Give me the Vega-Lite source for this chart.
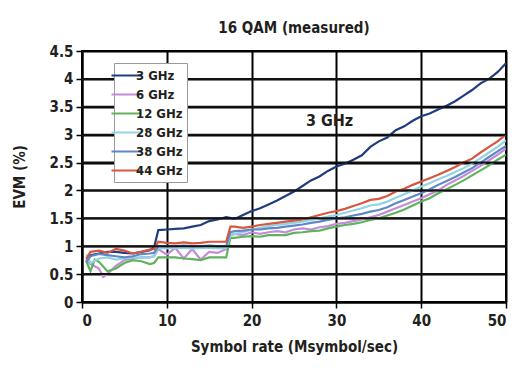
{
  "$schema": "https://vega.github.io/schema/vega-lite/v6.json",
  "width": 424,
  "height": 251,
  "autosize": "none",
  "padding": {"left": 82, "top": 51, "right": 26, "bottom": 71},
  "background": "white",
  "title": {"text": "16 QAM (measured)", "fontSize": 15, "fontWeight": "bold", "color": "#231f20", "offset": 8, "anchor": "middle", "font": "DejaVu Sans Condensed"},
  "config": {
    "font": "DejaVu Sans Condensed",
    "view": {"stroke": "black", "strokeWidth": 2},
    "axis": {
      "gridColor": "black", "gridWidth": 2, "gridOpacity": 1,
      "domainColor": "black", "domainWidth": 2,
      "tickColor": "black", "tickWidth": 1.5, "tickSize": 6,
      "labelFontSize": 15, "labelFontWeight": "bold", "labelColor": "#231f20", "labelOverlap": false,
      "titleFontSize": 15, "titleFontWeight": "bold", "titleColor": "#231f20"
    },
    "legend": {
      "labelFontSize": 13, "labelFontWeight": "bold", "labelColor": "#231f20"
    }
  },
  "layer": [
    {
      "data": {"values": [
        {"s":"3 GHz","x":0.5,"v":0.72},{"s":"3 GHz","x":1,"v":0.84},{"s":"3 GHz","x":2,"v":0.87},{"s":"3 GHz","x":3,"v":0.9},{"s":"3 GHz","x":4,"v":0.9},{"s":"3 GHz","x":5,"v":0.88},{"s":"3 GHz","x":6,"v":0.87},{"s":"3 GHz","x":7,"v":0.9},{"s":"3 GHz","x":8,"v":0.93},{"s":"3 GHz","x":8.5,"v":0.98},{"s":"3 GHz","x":9,"v":1.29},{"s":"3 GHz","x":10,"v":1.3},{"s":"3 GHz","x":11,"v":1.31},{"s":"3 GHz","x":12,"v":1.32},{"s":"3 GHz","x":13,"v":1.35},{"s":"3 GHz","x":14,"v":1.38},{"s":"3 GHz","x":15,"v":1.45},{"s":"3 GHz","x":16,"v":1.48},{"s":"3 GHz","x":17,"v":1.52},{"s":"3 GHz","x":18,"v":1.49},{"s":"3 GHz","x":19,"v":1.56},{"s":"3 GHz","x":20,"v":1.63},{"s":"3 GHz","x":21,"v":1.68},{"s":"3 GHz","x":22,"v":1.75},{"s":"3 GHz","x":23,"v":1.82},{"s":"3 GHz","x":24,"v":1.9},{"s":"3 GHz","x":25,"v":1.98},{"s":"3 GHz","x":26,"v":2.08},{"s":"3 GHz","x":27,"v":2.18},{"s":"3 GHz","x":28,"v":2.25},{"s":"3 GHz","x":29,"v":2.35},{"s":"3 GHz","x":30,"v":2.43},{"s":"3 GHz","x":31,"v":2.48},{"s":"3 GHz","x":32,"v":2.55},{"s":"3 GHz","x":33,"v":2.63},{"s":"3 GHz","x":34,"v":2.78},{"s":"3 GHz","x":35,"v":2.88},{"s":"3 GHz","x":36,"v":2.95},{"s":"3 GHz","x":37,"v":3.08},{"s":"3 GHz","x":38,"v":3.15},{"s":"3 GHz","x":39,"v":3.25},{"s":"3 GHz","x":40,"v":3.33},{"s":"3 GHz","x":41,"v":3.38},{"s":"3 GHz","x":42,"v":3.45},{"s":"3 GHz","x":43,"v":3.52},{"s":"3 GHz","x":44,"v":3.6},{"s":"3 GHz","x":45,"v":3.7},{"s":"3 GHz","x":46,"v":3.8},{"s":"3 GHz","x":47,"v":3.92},{"s":"3 GHz","x":48,"v":4.0},{"s":"3 GHz","x":49,"v":4.12},{"s":"3 GHz","x":50,"v":4.28},

        {"s":"6 GHz","x":0.5,"v":0.75},{"s":"6 GHz","x":1,"v":0.68},{"s":"6 GHz","x":2,"v":0.6},{"s":"6 GHz","x":2.5,"v":0.45},{"s":"6 GHz","x":3,"v":0.5},{"s":"6 GHz","x":4,"v":0.65},{"s":"6 GHz","x":5,"v":0.75},{"s":"6 GHz","x":6,"v":0.78},{"s":"6 GHz","x":7,"v":0.8},{"s":"6 GHz","x":8,"v":0.8},{"s":"6 GHz","x":8.5,"v":0.82},{"s":"6 GHz","x":9,"v":0.95},{"s":"6 GHz","x":10,"v":0.85},{"s":"6 GHz","x":11,"v":0.97},{"s":"6 GHz","x":12,"v":0.78},{"s":"6 GHz","x":13,"v":0.95},{"s":"6 GHz","x":14,"v":0.76},{"s":"6 GHz","x":15,"v":0.9},{"s":"6 GHz","x":16,"v":0.88},{"s":"6 GHz","x":17,"v":0.95},{"s":"6 GHz","x":17.5,"v":1.2},{"s":"6 GHz","x":18,"v":1.22},{"s":"6 GHz","x":19,"v":1.2},{"s":"6 GHz","x":20,"v":1.25},{"s":"6 GHz","x":21,"v":1.22},{"s":"6 GHz","x":22,"v":1.25},{"s":"6 GHz","x":23,"v":1.27},{"s":"6 GHz","x":24,"v":1.25},{"s":"6 GHz","x":25,"v":1.3},{"s":"6 GHz","x":26,"v":1.32},{"s":"6 GHz","x":27,"v":1.3},{"s":"6 GHz","x":28,"v":1.34},{"s":"6 GHz","x":29,"v":1.36},{"s":"6 GHz","x":30,"v":1.4},{"s":"6 GHz","x":31,"v":1.42},{"s":"6 GHz","x":32,"v":1.45},{"s":"6 GHz","x":33,"v":1.48},{"s":"6 GHz","x":34,"v":1.52},{"s":"6 GHz","x":35,"v":1.56},{"s":"6 GHz","x":36,"v":1.62},{"s":"6 GHz","x":37,"v":1.68},{"s":"6 GHz","x":38,"v":1.74},{"s":"6 GHz","x":39,"v":1.8},{"s":"6 GHz","x":40,"v":1.86},{"s":"6 GHz","x":41,"v":1.93},{"s":"6 GHz","x":42,"v":2.0},{"s":"6 GHz","x":43,"v":2.1},{"s":"6 GHz","x":44,"v":2.18},{"s":"6 GHz","x":45,"v":2.26},{"s":"6 GHz","x":46,"v":2.35},{"s":"6 GHz","x":47,"v":2.44},{"s":"6 GHz","x":48,"v":2.54},{"s":"6 GHz","x":49,"v":2.64},{"s":"6 GHz","x":50,"v":2.75},

        {"s":"12 GHz","x":0.5,"v":0.73},{"s":"12 GHz","x":1,"v":0.55},{"s":"12 GHz","x":1.5,"v":0.76},{"s":"12 GHz","x":2,"v":0.72},{"s":"12 GHz","x":3,"v":0.55},{"s":"12 GHz","x":4,"v":0.6},{"s":"12 GHz","x":5,"v":0.7},{"s":"12 GHz","x":6,"v":0.75},{"s":"12 GHz","x":7,"v":0.73},{"s":"12 GHz","x":8,"v":0.68},{"s":"12 GHz","x":8.5,"v":0.7},{"s":"12 GHz","x":9,"v":0.8},{"s":"12 GHz","x":10,"v":0.8},{"s":"12 GHz","x":11,"v":0.8},{"s":"12 GHz","x":12,"v":0.78},{"s":"12 GHz","x":13,"v":0.77},{"s":"12 GHz","x":14,"v":0.75},{"s":"12 GHz","x":15,"v":0.8},{"s":"12 GHz","x":16,"v":0.8},{"s":"12 GHz","x":17,"v":0.8},{"s":"12 GHz","x":17.5,"v":1.15},{"s":"12 GHz","x":18,"v":1.15},{"s":"12 GHz","x":19,"v":1.17},{"s":"12 GHz","x":20,"v":1.18},{"s":"12 GHz","x":21,"v":1.17},{"s":"12 GHz","x":22,"v":1.2},{"s":"12 GHz","x":23,"v":1.2},{"s":"12 GHz","x":24,"v":1.2},{"s":"12 GHz","x":25,"v":1.24},{"s":"12 GHz","x":26,"v":1.25},{"s":"12 GHz","x":27,"v":1.27},{"s":"12 GHz","x":28,"v":1.28},{"s":"12 GHz","x":29,"v":1.32},{"s":"12 GHz","x":30,"v":1.35},{"s":"12 GHz","x":31,"v":1.38},{"s":"12 GHz","x":32,"v":1.4},{"s":"12 GHz","x":33,"v":1.43},{"s":"12 GHz","x":34,"v":1.47},{"s":"12 GHz","x":35,"v":1.5},{"s":"12 GHz","x":36,"v":1.55},{"s":"12 GHz","x":37,"v":1.6},{"s":"12 GHz","x":38,"v":1.66},{"s":"12 GHz","x":39,"v":1.73},{"s":"12 GHz","x":40,"v":1.8},{"s":"12 GHz","x":41,"v":1.86},{"s":"12 GHz","x":42,"v":1.95},{"s":"12 GHz","x":43,"v":2.02},{"s":"12 GHz","x":44,"v":2.1},{"s":"12 GHz","x":45,"v":2.18},{"s":"12 GHz","x":46,"v":2.27},{"s":"12 GHz","x":47,"v":2.36},{"s":"12 GHz","x":48,"v":2.45},{"s":"12 GHz","x":49,"v":2.55},{"s":"12 GHz","x":50,"v":2.64},

        {"s":"28 GHz","x":0.5,"v":0.85},{"s":"28 GHz","x":1,"v":0.7},{"s":"28 GHz","x":2,"v":0.78},{"s":"28 GHz","x":3,"v":0.8},{"s":"28 GHz","x":4,"v":0.76},{"s":"28 GHz","x":5,"v":0.78},{"s":"28 GHz","x":6,"v":0.8},{"s":"28 GHz","x":7,"v":0.79},{"s":"28 GHz","x":8,"v":0.8},{"s":"28 GHz","x":8.5,"v":0.82},{"s":"28 GHz","x":9,"v":0.97},{"s":"28 GHz","x":10,"v":0.96},{"s":"28 GHz","x":11,"v":0.97},{"s":"28 GHz","x":12,"v":0.97},{"s":"28 GHz","x":13,"v":0.96},{"s":"28 GHz","x":14,"v":0.97},{"s":"28 GHz","x":15,"v":0.97},{"s":"28 GHz","x":16,"v":0.96},{"s":"28 GHz","x":17,"v":0.97},{"s":"28 GHz","x":17.5,"v":1.2},{"s":"28 GHz","x":18,"v":1.22},{"s":"28 GHz","x":19,"v":1.25},{"s":"28 GHz","x":20,"v":1.3},{"s":"28 GHz","x":21,"v":1.33},{"s":"28 GHz","x":22,"v":1.36},{"s":"28 GHz","x":23,"v":1.38},{"s":"28 GHz","x":24,"v":1.4},{"s":"28 GHz","x":25,"v":1.42},{"s":"28 GHz","x":26,"v":1.44},{"s":"28 GHz","x":27,"v":1.47},{"s":"28 GHz","x":28,"v":1.5},{"s":"28 GHz","x":29,"v":1.53},{"s":"28 GHz","x":30,"v":1.56},{"s":"28 GHz","x":31,"v":1.6},{"s":"28 GHz","x":32,"v":1.64},{"s":"28 GHz","x":33,"v":1.68},{"s":"28 GHz","x":34,"v":1.73},{"s":"28 GHz","x":35,"v":1.75},{"s":"28 GHz","x":36,"v":1.8},{"s":"28 GHz","x":37,"v":1.87},{"s":"28 GHz","x":38,"v":1.93},{"s":"28 GHz","x":39,"v":2.0},{"s":"28 GHz","x":40,"v":2.07},{"s":"28 GHz","x":41,"v":2.13},{"s":"28 GHz","x":42,"v":2.2},{"s":"28 GHz","x":43,"v":2.26},{"s":"28 GHz","x":44,"v":2.33},{"s":"28 GHz","x":45,"v":2.4},{"s":"28 GHz","x":46,"v":2.48},{"s":"28 GHz","x":47,"v":2.58},{"s":"28 GHz","x":48,"v":2.68},{"s":"28 GHz","x":49,"v":2.78},{"s":"28 GHz","x":50,"v":2.9},

        {"s":"38 GHz","x":0.5,"v":0.72},{"s":"38 GHz","x":1,"v":0.82},{"s":"38 GHz","x":2,"v":0.86},{"s":"38 GHz","x":3,"v":0.84},{"s":"38 GHz","x":4,"v":0.82},{"s":"38 GHz","x":5,"v":0.8},{"s":"38 GHz","x":6,"v":0.82},{"s":"38 GHz","x":7,"v":0.86},{"s":"38 GHz","x":8,"v":0.87},{"s":"38 GHz","x":8.5,"v":0.88},{"s":"38 GHz","x":9,"v":1.0},{"s":"38 GHz","x":10,"v":1.0},{"s":"38 GHz","x":11,"v":1.0},{"s":"38 GHz","x":12,"v":1.01},{"s":"38 GHz","x":13,"v":1.0},{"s":"38 GHz","x":14,"v":1.0},{"s":"38 GHz","x":15,"v":1.01},{"s":"38 GHz","x":16,"v":1.0},{"s":"38 GHz","x":17,"v":1.0},{"s":"38 GHz","x":17.5,"v":1.25},{"s":"38 GHz","x":18,"v":1.27},{"s":"38 GHz","x":19,"v":1.28},{"s":"38 GHz","x":20,"v":1.3},{"s":"38 GHz","x":21,"v":1.3},{"s":"38 GHz","x":22,"v":1.32},{"s":"38 GHz","x":23,"v":1.33},{"s":"38 GHz","x":24,"v":1.35},{"s":"38 GHz","x":25,"v":1.37},{"s":"38 GHz","x":26,"v":1.39},{"s":"38 GHz","x":27,"v":1.42},{"s":"38 GHz","x":28,"v":1.44},{"s":"38 GHz","x":29,"v":1.47},{"s":"38 GHz","x":30,"v":1.5},{"s":"38 GHz","x":31,"v":1.52},{"s":"38 GHz","x":32,"v":1.55},{"s":"38 GHz","x":33,"v":1.58},{"s":"38 GHz","x":34,"v":1.62},{"s":"38 GHz","x":35,"v":1.65},{"s":"38 GHz","x":36,"v":1.7},{"s":"38 GHz","x":37,"v":1.77},{"s":"38 GHz","x":38,"v":1.83},{"s":"38 GHz","x":39,"v":1.89},{"s":"38 GHz","x":40,"v":1.95},{"s":"38 GHz","x":41,"v":2.02},{"s":"38 GHz","x":42,"v":2.1},{"s":"38 GHz","x":43,"v":2.17},{"s":"38 GHz","x":44,"v":2.24},{"s":"38 GHz","x":45,"v":2.32},{"s":"38 GHz","x":46,"v":2.4},{"s":"38 GHz","x":47,"v":2.5},{"s":"38 GHz","x":48,"v":2.6},{"s":"38 GHz","x":49,"v":2.7},{"s":"38 GHz","x":50,"v":2.8},

        {"s":"44 GHz","x":0.5,"v":0.77},{"s":"44 GHz","x":1,"v":0.9},{"s":"44 GHz","x":2,"v":0.92},{"s":"44 GHz","x":3,"v":0.88},{"s":"44 GHz","x":4,"v":0.95},{"s":"44 GHz","x":5,"v":0.92},{"s":"44 GHz","x":6,"v":0.87},{"s":"44 GHz","x":7,"v":0.9},{"s":"44 GHz","x":8,"v":0.94},{"s":"44 GHz","x":8.5,"v":0.95},{"s":"44 GHz","x":9,"v":1.08},{"s":"44 GHz","x":10,"v":1.06},{"s":"44 GHz","x":11,"v":1.05},{"s":"44 GHz","x":12,"v":1.07},{"s":"44 GHz","x":13,"v":1.05},{"s":"44 GHz","x":14,"v":1.06},{"s":"44 GHz","x":15,"v":1.08},{"s":"44 GHz","x":16,"v":1.08},{"s":"44 GHz","x":17,"v":1.08},{"s":"44 GHz","x":17.5,"v":1.35},{"s":"44 GHz","x":18,"v":1.35},{"s":"44 GHz","x":19,"v":1.33},{"s":"44 GHz","x":20,"v":1.35},{"s":"44 GHz","x":21,"v":1.38},{"s":"44 GHz","x":22,"v":1.4},{"s":"44 GHz","x":23,"v":1.42},{"s":"44 GHz","x":24,"v":1.44},{"s":"44 GHz","x":25,"v":1.46},{"s":"44 GHz","x":26,"v":1.48},{"s":"44 GHz","x":27,"v":1.52},{"s":"44 GHz","x":28,"v":1.56},{"s":"44 GHz","x":29,"v":1.6},{"s":"44 GHz","x":30,"v":1.63},{"s":"44 GHz","x":31,"v":1.67},{"s":"44 GHz","x":32,"v":1.72},{"s":"44 GHz","x":33,"v":1.77},{"s":"44 GHz","x":34,"v":1.83},{"s":"44 GHz","x":35,"v":1.85},{"s":"44 GHz","x":36,"v":1.9},{"s":"44 GHz","x":37,"v":1.98},{"s":"44 GHz","x":38,"v":2.03},{"s":"44 GHz","x":39,"v":2.1},{"s":"44 GHz","x":40,"v":2.16},{"s":"44 GHz","x":41,"v":2.22},{"s":"44 GHz","x":42,"v":2.28},{"s":"44 GHz","x":43,"v":2.35},{"s":"44 GHz","x":44,"v":2.42},{"s":"44 GHz","x":45,"v":2.5},{"s":"44 GHz","x":46,"v":2.57},{"s":"44 GHz","x":47,"v":2.68},{"s":"44 GHz","x":48,"v":2.78},{"s":"44 GHz","x":49,"v":2.88},{"s":"44 GHz","x":50,"v":3.0}
      ]},
      "mark": {"type": "line", "strokeWidth": 2.2, "clip": true},
      "encoding": {
        "x": {"field": "x", "type": "quantitative",
          "scale": {"domain": [0, 50], "nice": false, "zero": true},
          "axis": {"grid": true, "values": [0, 10, 20, 30, 40, 50], "title": "Symbol rate (Msymbol/sec)", "labelPadding": 5, "titlePadding": 11}},
        "y": {"field": "v", "type": "quantitative",
          "scale": {"domain": [0, 4.5], "nice": false},
          "axis": {"grid": true, "values": [0, 0.5, 1, 1.5, 2, 2.5, 3, 3.5, 4, 4.5], "labelExpr": "datum.value", "title": "EVM (%)", "labelPadding": 3, "titlePadding": 22}},
        "color": {"field": "s", "type": "nominal",
          "scale": {"domain": ["3 GHz", "6 GHz", "12 GHz", "28 GHz", "38 GHz", "44 GHz"],
                    "range": ["#1f3c7c", "#c58bd6", "#5fb35f", "#92d4e4", "#5f89c4", "#d7563e"]},
          "legend": {"title": null, "orient": "none", "legendX": 32, "legendY": 12,
            "symbolType": "M-2,0H2", "symbolSize": 225, "symbolStrokeWidth": 2,
            "strokeColor": "#9a9a9a", "fillColor": "white", "padding": 4, "rowPadding": 3, "labelOffset": 1}}
      }
    },
    {
      "data": {"values": [{"x": 29.2, "v": 3.24, "label": "3 GHz"}]},
      "mark": {"type": "text", "fontSize": 16, "fontWeight": "bold", "color": "#231f20"},
      "encoding": {
        "x": {"field": "x", "type": "quantitative",
          "scale": {"domain": [0, 50], "nice": false, "zero": true},
          "axis": {"grid": true, "values": [0, 10, 20, 30, 40, 50], "title": "Symbol rate (Msymbol/sec)", "labelPadding": 5, "titlePadding": 11}},
        "y": {"field": "v", "type": "quantitative",
          "scale": {"domain": [0, 4.5], "nice": false},
          "axis": {"grid": true, "values": [0, 0.5, 1, 1.5, 2, 2.5, 3, 3.5, 4, 4.5], "labelExpr": "datum.value", "title": "EVM (%)", "labelPadding": 3, "titlePadding": 22}},
        "text": {"field": "label"}
      }
    },
    {
      "data": {"values": [
        {"g": 0.5}, {"g": 1}, {"g": 1.5}, {"g": 2}, {"g": 2.5}, {"g": 3}, {"g": 3.5}, {"g": 4}
      ]},
      "mark": {"type": "rule", "color": "#111111", "strokeWidth": 2, "opacity": 1},
      "encoding": {
        "x": {"datum": 0, "type": "quantitative"},
        "x2": {"datum": 50},
        "y": {"field": "g", "type": "quantitative",
          "scale": {"domain": [0, 4.5], "nice": false},
          "axis": {"grid": true, "values": [0, 0.5, 1, 1.5, 2, 2.5, 3, 3.5, 4, 4.5], "labelExpr": "datum.value", "title": "EVM (%)", "labelPadding": 3, "titlePadding": 22}}
      }
    }
  ]
}
